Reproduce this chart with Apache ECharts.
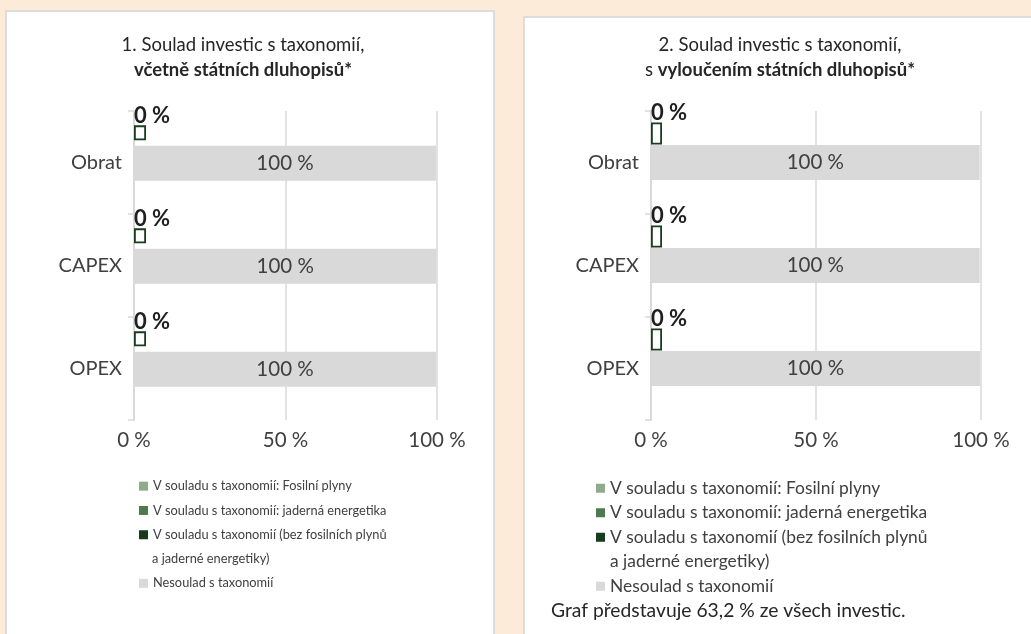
<!DOCTYPE html>
<html>
<head>
<meta charset="utf-8">
<script src="https://cdn.jsdelivr.net/npm/echarts@6/dist/echarts.min.js"></script>
<style>
  html, body { margin:0; padding:0; width:1031px; height:634px; overflow:hidden; background:#fbebd8; }
  .panel { position:absolute; background:#fff; border:2px solid #dcdcdc; box-sizing:border-box; }
  #p1 { left:5px; top:10px; width:490px; height:640px; }
  #p2 { left:523px; top:16px; width:520px; height:640px; }
  #chart { position:absolute; left:0; top:0; width:1031px; height:634px; }
</style>
</head>
<body>
<div class="panel" id="p1"></div>
<div class="panel" id="p2"></div>
<div id="chart"></div>
<script>
// ---- data ----
const categories = ['Obrat', 'CAPEX', 'OPEX'];
const xTicks = [0, 50, 100];
const seriesNames = [
  'V souladu s taxonomií: Fosilní plyny',
  'V souladu s taxonomií: jaderná energetika',
  'V souladu s taxonomií (bez fosilních plynů a jaderné energetiky)',
  'Nesoulad s taxonomií'
];
// chart 1 (including sovereign bonds)
const fossil1 = [0, 0, 0];
const nuclear1 = [0, 0, 0];
const aligned1 = [0.3, 0.2, 0.3];
const notAligned1 = [99.7, 99.8, 99.7];
// chart 2 (excluding sovereign bonds)
const fossil2 = [0, 0, 0];
const nuclear2 = [0, 0, 0];
const aligned2 = [0.4, 0.4, 0.3];
const notAligned2 = [99.6, 99.6, 99.7];
const title1 = ['1. Soulad investic s taxonomií,', 'včetně státních dluhopisů*'];
const title2 = ['2. Soulad investic s taxonomií,', 's ', 'vyloučením státních dluhopisů*'];
const note2 = 'Graf představuje 63,2 % ze všech investic.';

// ---- styling ----
const FONT = 'Lato';
const colors = ['#8faa8c', '#4f7a4f', '#173d1c', '#d9d9d9'];
const splitName = seriesNames[2].indexOf(' a jaderné');
const alignedLine1 = seriesNames[2].slice(0, splitName);
const alignedLine2 = seriesNames[2].slice(splitName + 1);

function buildSeries(gi, fossil, nuclear, aligned, notAligned, cfg) {
  const base = {
    type: 'bar', xAxisIndex: gi, yAxisIndex: gi,
    barGap: cfg.gap, barCategoryGap: '0%'
  };
  return [
    Object.assign({}, base, {
      name: seriesNames[0], stack: 'g' + gi, data: fossil, barWidth: cfg.greenW,
      itemStyle: { color: colors[0] }
    }),
    Object.assign({}, base, {
      name: seriesNames[1], stack: 'g' + gi, data: nuclear, barWidth: cfg.greenW,
      itemStyle: { color: colors[1] }
    }),
    Object.assign({}, base, {
      name: seriesNames[2], stack: 'g' + gi, data: aligned, barWidth: cfg.greenW,
      barMinHeight: cfg.minH,
      itemStyle: { color: '#ffffff', borderColor: colors[2], borderWidth: 1.8 },
      label: {
        show: true, position: [0, cfg.labelDy], align: 'left', verticalAlign: 'bottom',
        fontFamily: FONT, fontSize: 22, fontWeight: 'bold', color: '#1f1f1f',
        formatter: p => Math.round(fossil[p.dataIndex] + nuclear[p.dataIndex] + aligned[p.dataIndex]) + ' %'
      }
    }),
    Object.assign({}, base, {
      name: seriesNames[3], stack: 'n' + gi, data: notAligned, barWidth: 35,
      itemStyle: { color: colors[3] },
      label: {
        show: true, position: 'inside', fontFamily: FONT, fontSize: 20.5, color: '#404040',
        formatter: p => Math.round(p.value) + ' %'
      }
    }),
    Object.assign({}, base, {
      name: '_spacer', stack: 'd' + gi, data: [], barWidth: cfg.dummyW, silent: true
    })
  ];
}

function legendItems(names) {
  return names.map(n => {
    const i = seriesNames.indexOf(n);
    return { name: n, itemStyle: { color: colors[i], borderWidth: 0 } };
  });
}

function legends(left, top, step, fontSize) {
  const common = {
    orient: 'vertical', left: left, itemGap: 0, itemWidth: 9, itemHeight: 9, padding: 0,
    icon: 'rect', selectedMode: false,
    textStyle: { fontFamily: FONT, fontSize: fontSize, lineHeight: step, color: '#404040' },
    formatter: n => (n === seriesNames[2] ? alignedLine1 : n)
  };
  return [
    Object.assign({}, common, { top: top, data: legendItems(seriesNames.slice(0, 3)) }),
    Object.assign({}, common, { top: top + step * 4, data: legendItems([seriesNames[3]]) })
  ];
}

function xAxis(gi) {
  return {
    type: 'value', gridIndex: gi, min: xTicks[0], max: xTicks[xTicks.length - 1],
    interval: xTicks[1] - xTicks[0],
    axisLine: { show: false }, axisTick: { show: false },
    splitLine: { lineStyle: { color: '#d9d9d9', width: 1.5 } },
    axisLabel: { formatter: '{value} %', fontFamily: FONT, fontSize: 20.5, color: '#404040', margin: 10 }
  };
}
function yAxis(gi) {
  return {
    type: 'category', gridIndex: gi, data: categories, inverse: true,
    axisLine: { lineStyle: { color: '#d9d9d9', width: 2 } },
    axisTick: { show: true, length: 6, lineStyle: { color: '#d9d9d9', width: 1.5 } },
    axisLabel: { fontFamily: FONT, fontSize: 20, color: '#404040', margin: 12 }
  };
}

const titleStyle = {
  fontFamily: FONT, fontSize: 18.5, fontWeight: 'normal', color: '#262626', lineHeight: 25,
  rich: { b: { fontFamily: FONT, fontSize: 18.5, fontWeight: 'bold', color: '#262626', lineHeight: 25 } }
};

const option = {
  animation: false,
  textStyle: { fontFamily: FONT },
  title: [
    { text: title1[0] + '\n{b|' + title1[1] + '}', left: 243, top: 33, padding: 0, textAlign: 'center', textStyle: titleStyle },
    { text: title2[0] + '\n' + title2[1] + '{b|' + title2[2] + '}', left: 780, top: 33, padding: 0, textAlign: 'center', textStyle: titleStyle },
    { text: note2, left: 551, top: 601, padding: 0, textStyle: { fontFamily: FONT, fontSize: 19.3, fontWeight: 'normal', color: '#262626' } }
  ],
  grid: [
    { left: 134, right: 1031 - 437, top: 111, bottom: 634 - 420 },
    { left: 651, right: 1031 - 981, top: 111, bottom: 634 - 420 }
  ],
  xAxis: [xAxis(0), xAxis(1)],
  yAxis: [yAxis(0), yAxis(1)],
  legend: legends(139, 474, 24.3, 12.8).concat(legends(596, 476, 24.5, 17.4)),
  graphic: [
    { type: 'text', left: 152, top: 547, style: { text: alignedLine2, fontFamily: FONT, fontSize: 12.8, lineHeight: 24.3, fill: '#404040' } },
    { type: 'text', left: 610, top: 549, style: { text: alignedLine2, fontFamily: FONT, fontSize: 17.4, lineHeight: 24.5, fill: '#404040' } }
  ],
  series: buildSeries(0, fossil1, nuclear1, aligned1, notAligned1, { greenW: 15, gap: '35.7%', dummyW: 6.5, minH: 12, labelDy: 2 })
    .concat(buildSeries(1, fossil2, nuclear2, aligned2, notAligned2, { greenW: 22, gap: '2.3%', dummyW: 21.7, minH: 11, labelDy: 1 }))
};

const chart = echarts.init(document.getElementById('chart'), null, { renderer: 'canvas' });
chart.setOption(option);
</script>
</body>
</html>
